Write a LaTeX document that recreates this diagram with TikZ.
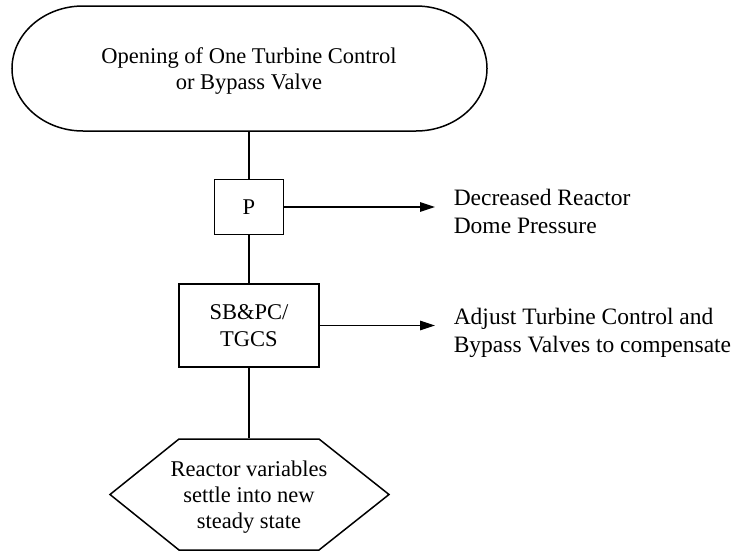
\documentclass[tikz,border=0pt]{standalone}
\usepackage{fontspec}
\setmainfont{Liberation Serif}
\usetikzlibrary{arrows.meta,calc}
\begin{document}
\begin{tikzpicture}[x=1pt,y=-1pt,
  line width=1.5pt,
  box/.style={draw, line width=1.5pt, inner sep=0pt, align=center,
    font=\fontsize{22.5}{27}\selectfont},
  lbl/.style={inner sep=0pt, align=center, font=\fontsize{22.5}{26}\selectfont},
  side/.style={inner sep=0pt, align=left, anchor=base west,
    font=\fontsize{23.5}{27.5}\selectfont},
  arr/.style={-{Triangle[length=15pt,width=9.5pt]}, line width=1.5pt}
]
\useasboundingbox (0,0) rectangle (738,552);
% top terminal shape
\draw (83,6) -- (416,6) arc[start angle=-90, end angle=90, x radius=71, y radius=62.5]
  -- (83,131) arc[start angle=90, end angle=270, x radius=71, y radius=62.5] -- cycle;
\node[lbl, minimum width=475pt, minimum height=119pt] (top) at (249,71.5)
  {Opening of One Turbine Control\\or Bypass Valve};
% P box
\node[box, minimum width=69pt, minimum height=55pt] (P) at (249,207) {P};
% SB box
\node[box, minimum width=140pt, minimum height=83pt] (SB) at (249,325.5) {SB\&PC/\\TGCS};
% hexagon
\draw (179,439) -- (319,439) -- (389,494.5) -- (319,550) -- (179,550) -- (110,494.5) -- cycle;
\node[lbl, minimum width=279pt, minimum height=117pt] (hex) at (249,497.5)
  {Reactor variables\\settle into new\\steady state};
% side texts
\node[side] (dtxt) at (453,233) {Decreased Reactor\\Dome Pressure};
\node[side] (atxt) at (453,352) {Adjust Turbine Control and\\Bypass Valves to compensate};
% connectors
\draw (top.south) -- (P.north);
\draw (P.south) -- (SB.north);
\draw (SB.south) -- (hex.north);
\draw[arr, shorten >=18pt] (P.east) -- (P.east -| dtxt.west);
\draw[arr, shorten >=18pt] (SB.east) -- (SB.east -| atxt.west);
\end{tikzpicture}
\end{document}
